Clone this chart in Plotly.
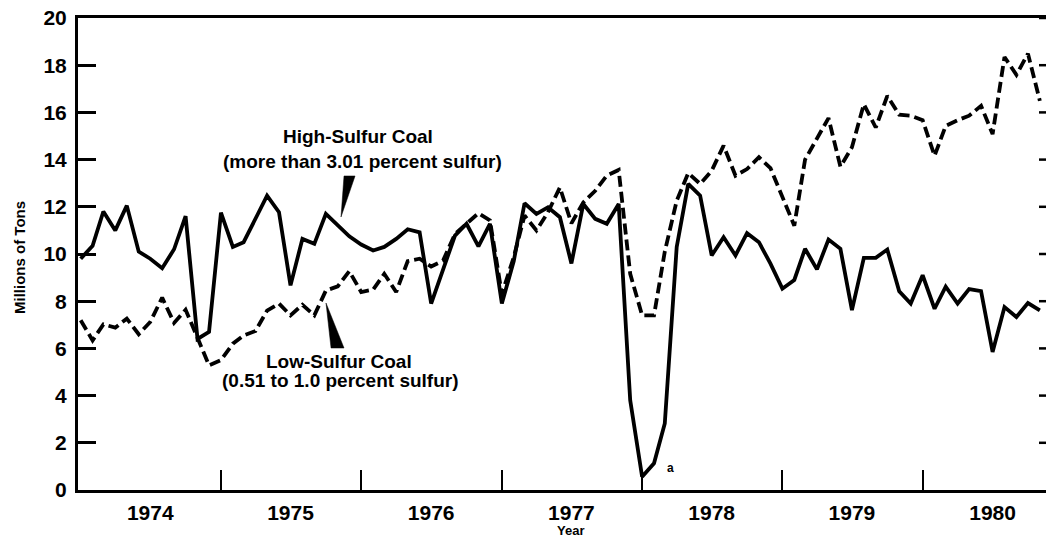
import pandas as pd
import plotly.graph_objects as go

# ---- data (millions of tons, monthly Jan 1974 .. Nov 1980) ----
months = pd.date_range("1974-01-01", periods=83, freq="MS")

high_sulfur = [
    9.8, 10.35, 11.8, 11.0, 12.05, 10.1, 9.8, 9.4, 10.2, 11.6, 6.4, 6.7,      # 1974
    11.75, 10.3, 10.5, 11.5, 12.47, 11.77, 8.67, 10.64, 10.43, 11.7, 11.2, 10.75,  # 1975
    10.4, 10.15, 10.3, 10.64, 11.05, 10.92, 7.9, 9.4, 10.78, 11.28, 10.32, 11.28,  # 1976
    7.9, 9.7, 12.15, 11.7, 11.98, 11.56, 9.6, 12.12, 11.49, 11.28, 12.12, 3.8,     # 1977
    0.56, 1.13, 2.82, 10.3, 12.97, 12.47, 9.94, 10.71, 9.94, 10.88, 10.5, 9.59,    # 1978
    8.53, 8.9, 10.22, 9.35, 10.61, 10.22, 7.62, 9.84, 9.84, 10.19, 8.42, 7.9,      # 1979
    9.1, 7.68, 8.62, 7.9, 8.51, 8.43, 5.85, 7.75, 7.33, 7.92, 7.61,                # 1980
]

low_sulfur = [
    7.19, 6.34, 7.02, 6.88, 7.26, 6.6, 7.12, 8.15, 7.08, 7.64, 6.45, 5.28,
    5.5, 6.2, 6.55, 6.74, 7.6, 7.9, 7.4, 7.85, 7.4, 8.45, 8.63, 9.27,
    8.39, 8.49, 9.16, 8.39, 9.7, 9.8, 9.47, 9.72, 10.85, 11.28, 11.73, 11.42,
    8.3, 9.87, 11.63, 11.0, 11.77, 12.82, 11.3, 12.19, 12.68, 13.32, 13.56, 9.16,
    7.4, 7.4, 10.1, 12.26, 13.43, 12.97, 13.53, 14.59, 13.32, 13.6, 14.1, 13.64,
    12.4, 11.2, 14.0, 14.87, 15.76, 13.7, 14.52, 16.35, 15.36, 16.7, 15.9, 15.86,
    15.67, 14.16, 15.43, 15.67, 15.86, 16.28, 15.08, 18.35, 17.59, 18.49, 16.49,
]

year_labels = ["1974", "1975", "1976", "1977", "1978", "1979", "1980"]
year_label_pos = [f"{y}-07-01" for y in year_labels]
year_bounds = [f"{int(y) + 1}-01-01" for y in year_labels[:-1]]
y_ticks = [0, 2, 4, 6, 8, 10, 12, 14, 16, 18, 20]

FONT = "Liberation Sans, Arial, sans-serif"

fig = go.Figure()
fig.add_trace(go.Scatter(
    x=months, y=high_sulfur, mode="lines", name="High-Sulfur Coal",
    line=dict(color="black", width=3.8),
))
fig.add_trace(go.Scatter(
    x=months, y=low_sulfur, mode="lines", name="Low-Sulfur Coal",
    line=dict(color="black", width=3.8, dash="11px,5px"),
))

fig.update_layout(
    width=1046, height=537,
    margin=dict(l=78, r=0, t=18, b=47),
    paper_bgcolor="white", plot_bgcolor="white",
    showlegend=False,
    font=dict(family=FONT, color="black"),
)

fig.update_xaxes(
    range=["1973-12-25", "1980-11-17"],
    tickmode="array", tickvals=year_label_pos, ticktext=year_labels,
    ticks="", ticklabelstandoff=2,
    tickfont=dict(size=21, family=FONT, weight="bold"),
    minor=dict(tickmode="array", tickvals=year_bounds, ticks="inside",
               ticklen=20, tickwidth=2, tickcolor="black", showgrid=False),
    showline=True, linecolor="black", linewidth=3, mirror=True,
    showgrid=False, zeroline=False,
)
fig.update_yaxes(
    range=[0, 20], tickmode="array", tickvals=y_ticks,
    ticks="inside", ticklen=18, tickwidth=2.5, tickcolor="black",
    ticklabelstandoff=4,
    tickfont=dict(size=21, family=FONT, weight="bold"),
    showline=True, linecolor="black", linewidth=3,
    showgrid=False, zeroline=False,
)

# short ticks on right edge
for v in y_ticks[1:]:
    fig.add_shape(type="line", xref="paper", yref="y",
                  x0=1 - 7 / 968, x1=1, y0=v, y1=v,
                  line=dict(color="black", width=2.5))

# pointer wedges
fig.add_shape(type="path", xref="paper", yref="paper",
              path="M 0.2748 0.6653 L 0.2862 0.6653 L 0.2717 0.5784 Z",
              fillcolor="black", line=dict(color="black", width=0.5))
fig.add_shape(type="path", xref="paper", yref="paper",
              path="M 0.2562 0.3962 L 0.2614 0.3008 L 0.2748 0.3008 Z",
              fillcolor="black", line=dict(color="black", width=0.5))

def ann(text, x, y, size=19, **kw):
    fig.add_annotation(text=text, x=x, y=y, xref="paper", yref="paper",
                       showarrow=False, xanchor="center", yanchor="middle",
                       font=dict(size=size, family=FONT, weight="bold", color="black"),
                       **kw)

ann("High-Sulfur Coal", 0.2893, 0.750)
ann("(more than 3.01 percent sulfur)", 0.2934, 0.695)
ann("Low-Sulfur Coal", 0.2701, 0.272)
ann("(0.51 to 1.0 percent sulfur)", 0.2707, 0.231)
ann("a", 0.6126, 0.0466, size=12)
ann("Year", 0.5083, -0.085, size=13)
ann("Millions of Tons", -0.061, 0.4936, size=15, textangle=-90)

fig.write_html("out.html", post_script="document.body.style.margin='0';",
               config={"displayModeBar": False})
